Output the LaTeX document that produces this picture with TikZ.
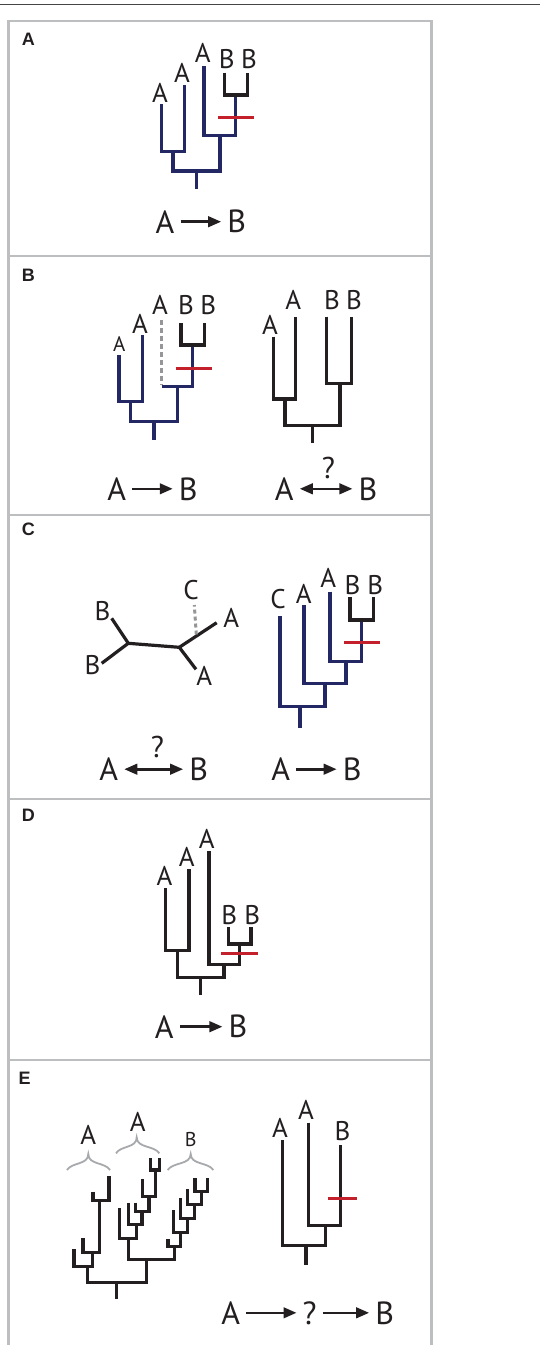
\documentclass[tikz,border=0pt]{standalone}
\usepackage{fontspec}
\setmainfont{PT Sans}
\newfontfamily\panelfont{Liberation Sans}
\usetikzlibrary{arrows.meta}

\definecolor{navy}{RGB}{35,40,100}
\definecolor{inkblack}{RGB}{35,31,32}
\definecolor{mutred}{RGB}{196,32,44}
\definecolor{framegray}{RGB}{188,190,192}
\definecolor{rulegray}{RGB}{70,70,72}
\definecolor{ghostgray}{RGB}{150,150,152}
\definecolor{bracegray}{RGB}{167,169,172}

\tikzset{
  frame/.style={draw=framegray, line width=2.6pt},
  tb/.style={draw=navy, line width=3.2pt, line join=miter},
  tk/.style={draw=inkblack, line width=3.2pt, line join=miter},
  mut/.style={draw=mutred, line width=3.2pt},
  ghost/.style={draw=ghostgray, line width=3pt, dash pattern=on 4.5pt off 3.5pt},
  lab/.style={inner sep=0pt, text=inkblack, font=\fontsize{27}{27}\selectfont},
  slab/.style={inner sep=0pt, text=inkblack, font=\fontsize{21}{21}\selectfont},
  big/.style={inner ysep=0pt, inner xsep=6pt, text=inkblack, font=\fontsize{32}{32}\selectfont},
  plabel/.style={anchor=west, inner sep=0pt, text=inkblack, font=\panelfont\bfseries\fontsize{18}{18}\selectfont},
  arr/.style={draw=inkblack, line width=2.6pt, -{Triangle[length=13pt,width=10.5pt]}},
  darr/.style={draw=inkblack, line width=2.6pt, {Triangle[length=13pt,width=10.5pt]}-{Triangle[length=13pt,width=10.5pt]}},
  brc/.style={draw=bracegray, line width=1.8pt},
}

\begin{document}
\begin{tikzpicture}[x=1pt,y=-1pt]
\useasboundingbox (0,0) rectangle (540,1345);
\fill[white] (0,0) rectangle (540,1345);

% page rule and panel frame
\draw[draw=rulegray, line width=1.5pt] (0,4.5) -- (540,4.5);
\draw[frame] (8.7,1345) -- (8.7,21) -- (431.3,21) -- (431.3,1345);
\foreach \yy in {256,515,799,1060} \draw[frame] (8.7,\yy) -- (431.3,\yy);

% panel letters
\node[plabel] (pA) at (21.7,39.5) {A};
\node[plabel] (pB) at (21.7,275) {B};
\node[plabel] (pC) at (21.7,529.3) {C};
\node[plabel] (pD) at (21.7,815) {D};
\node[plabel] (pE) at (18.3,1077.8) {E};

% ---------------- panel A ----------------
\draw[tb] (161.7,104) -- (161.7,151.7) -- (184.3,151.7) -- (184.3,85);
\draw[tb] (173,151.7) -- (173,171) -- (220,171) -- (220,135.7);
\draw[tb] (204,66) -- (204,135.7) -- (235.7,135.7) -- (235.7,95);
\draw[tb] (196.7,171) -- (196.7,189);
\draw[tk] (224.3,72.7) -- (224.3,95) -- (247.3,95) -- (247.3,72.7);
\draw[mut] (218.3,117.3) -- (254.3,117.3);
\node[lab] (a1) at (160,92.5) {A};
\node[lab] (a2) at (182,73) {A};
\node[lab] (a3) at (202.7,53) {A};
\node[lab] (a4) at (226.7,59) {B};
\node[lab] (a5) at (249,59) {B};
\node[big] (aA) at (165,221.7) {A};
\node[big] (aB) at (236.7,221.7) {B};
\draw[arr] (aA.east) -- (aB.west);

% ---------------- panel B ----------------
\draw[tb] (119,355) -- (119,401.7) -- (142.7,401.7) -- (142.7,335);
\draw[tb] (130.7,401.7) -- (130.7,421.7) -- (177.7,421.7) -- (177.7,386.7);
\draw[tb] (161.7,386.7) -- (192.7,386.7) -- (192.7,345);
\draw[tb] (154,421.7) -- (154,440);
\draw[ghost] (161.7,320) -- (161.7,385.1);
\draw[tk] (181,323.3) -- (181,345) -- (204.3,345) -- (204.3,323.3);
\draw[mut] (175.7,368.3) -- (211.7,368.3);
\node[slab] (b1) at (119.2,344.5) {A};
\node[lab] (b2) at (140,324) {A};
\node[lab] (b3) at (160,304.7) {A};
\node[lab] (b4) at (186,305) {B};
\node[lab] (b5) at (208.3,305) {B};

\draw[tk] (273.3,336.7) -- (273.3,399) -- (295.7,399) -- (295.7,316.7);
\draw[tk] (285,399) -- (285,425.7) -- (340,425.7) -- (340,383.3);
\draw[tk] (326.7,316.7) -- (326.7,383.3) -- (351.7,383.3) -- (351.7,316.7);
\draw[tk] (312.3,425.7) -- (312.3,443.3);
\node[lab] (b6) at (270,324.5) {A};
\node[lab] (b7) at (293.3,300) {A};
\node[lab] (b8) at (332,300) {B};
\node[lab] (b9) at (354,300) {B};

\node[big] (bA) at (116.7,488.8) {A};
\node[big] (bB) at (188.3,488.8) {B};
\draw[arr] (bA.east) -- (bB.west);
\node[big] (bA2) at (284.2,488.8) {A};
\node[big] (bB2) at (368,488.8) {B};
\draw[darr] (bA2.east) -- (bB2.west);
\node[lab, font=\fontsize{30}{30}\selectfont] (bq) at (328.3,468.3) {?};

% ---------------- panel C ----------------
\coordinate (c1) at (128.3,643.3);
\coordinate (c2) at (179.3,647.3);
\draw[tk, line join=round] (111.7,618.3) -- (c1) -- (101.7,663.3);
\draw[tk] (c1) -- (c2);
\draw[tk, line join=round] (216.7,622.7) -- (c2) -- (196,669.3);
\draw[ghost, dash pattern=on 4pt off 3pt] (196.3,634.5) -- (194.3,605);
\node[lab] (cB1) at (102.5,610.8) {B};
\node[lab] (cB2) at (92.5,665) {B};
\node[lab] (cA1) at (231.3,617.5) {A};
\node[lab] (cA2) at (204.3,675.8) {A};
\node[lab] (cC) at (191,590) {C};

\draw[tb] (280,616) -- (280,706.7) -- (325,706.7) -- (325,683.3);
\draw[tb] (304,605) -- (304,683.3) -- (346,683.3) -- (346,661.7);
\draw[tb] (330,591.7) -- (330,661.7) -- (361.7,661.7) -- (361.7,620);
\draw[tb] (300,706.7) -- (300,728.3);
\draw[tk] (350,597.3) -- (350,620) -- (373.3,620) -- (373.3,597.3);
\draw[mut] (344,642.7) -- (380,642.7);
\node[lab] (c3) at (278,599.2) {C};
\node[lab] (c4) at (303.8,593.8) {A};
\node[lab] (c5) at (328.3,577.8) {A};
\node[lab] (c6) at (352.5,585) {B};
\node[lab] (c7) at (375.2,585) {B};

\node[big] (cA) at (108.7,769.2) {A};
\node[big] (cB) at (198.7,769.2) {B};
\draw[darr] (cA.east) -- (cB.west);
\node[lab, font=\fontsize{30}{30}\selectfont] (cq) at (157.5,746.7) {?};
\node[big] (cA3) at (280.8,769.2) {A};
\node[big] (cB3) at (352.2,769.2) {B};
\draw[arr] (cA3.east) -- (cB3.west);

% ---------------- panel D ----------------
\draw[tk] (165.7,888.3) -- (165.7,950.7) -- (189,950.7) -- (189,869);
\draw[tk] (177.3,950.7) -- (177.3,977.3) -- (224,977.3) -- (224,964.3);
\draw[tk] (209,851) -- (209,964.3) -- (239.3,964.3) -- (239.3,944);
\draw[tk] (228.7,927.3) -- (228.7,944) -- (251,944) -- (251,927.3);
\draw[tk] (200.7,977.3) -- (200.7,995);
\draw[mut] (221,953.3) -- (257.7,953.3);
\node[lab] (d1) at (164.5,876.2) {A};
\node[lab] (d2) at (186.7,857.2) {A};
\node[lab] (d3) at (206.7,839.2) {A};
\node[lab] (d4) at (229.2,914.7) {B};
\node[lab] (d5) at (252.2,914.7) {B};
\node[big] (dA) at (164.2,1026.7) {A};
\node[big] (dB) at (238,1026.7) {B};
\draw[arr] (dA.east) -- (dB.west);

% ---------------- panel E ----------------
% clade A (left)
\draw[tk] (74,1249) -- (74,1266.7) -- (92.3,1266.7) -- (92.3,1252.3);
\draw[tk] (83,1238.3) -- (83,1252.3) -- (99.7,1252.3) -- (99.7,1200.7);
\draw[tk] (93,1191.5) -- (93,1200.7) -- (109,1200.7) -- (109,1175.5);
% root
\draw[tk] (87.3,1266.7) -- (87.3,1282.7) -- (146.7,1282.7) -- (146.7,1259.3);
\draw[tk] (116.7,1282.7) -- (116.7,1299.3);
\draw[tk] (128.3,1238.3) -- (128.3,1259.3) -- (174.5,1259.3) -- (174.5,1246.3);
% clade A (middle)
\draw[tk] (119.5,1208.3) -- (119.5,1238.3) -- (136.2,1238.3) -- (136.2,1224.3);
\draw[tk] (128.8,1202.7) -- (128.8,1224.3) -- (142,1224.3) -- (142,1211.5);
\draw[tk] (135.5,1202.7) -- (135.5,1211.5) -- (149,1211.5) -- (149,1196.7);
\draw[tk] (142.3,1179) -- (142.3,1196.7) -- (155.5,1196.7) -- (155.5,1170);
\draw[tk] (150.5,1158.3) -- (150.5,1170) -- (159.8,1170) -- (159.8,1158.3);
% clade B
\draw[tk] (168,1239) -- (168,1246.3) -- (180.6,1246.3) -- (180.6,1232.7);
\draw[tk] (173.7,1210) -- (173.7,1232.7) -- (187.4,1232.7) -- (187.4,1218.3);
\draw[tk] (180.6,1198) -- (180.6,1218.3) -- (194.2,1218.3) -- (194.2,1204.3);
\draw[tk] (187.2,1189) -- (187.2,1204.3) -- (201.2,1204.3) -- (201.2,1191.5);
\draw[tk] (195,1178.3) -- (195,1191.5) -- (207.3,1191.5) -- (207.3,1178.3);
% braces over the clades
\draw[brc] (67,1170) .. controls (72,1162) and (88.3,1165) .. (88.3,1154)
           .. controls (88.3,1165) and (105,1162) .. (110,1170);
\draw[brc] (116,1153.3) .. controls (121,1145.3) and (136.7,1148.3) .. (136.7,1137.3)
           .. controls (136.7,1148.3) and (154.3,1145.3) .. (159.3,1153.3);
\draw[brc] (167.7,1170) .. controls (172.7,1162) and (190.7,1165) .. (190.7,1154)
           .. controls (190.7,1165) and (208.3,1162) .. (213.3,1170);
\node[lab] (e1) at (88.3,1135.2) {A};
\node[lab] (e2) at (137.7,1121.8) {A};
\node[slab, font=\fontsize{20}{20}\selectfont] (e3) at (190.8,1139.7) {B};

% summary tree
\draw[tk] (282.7,1140) -- (282.7,1245.7) -- (325.7,1245.7) -- (325.7,1225.7);
\draw[tk] (308.3,1122.7) -- (308.3,1225.7) -- (340.7,1225.7) -- (340.7,1145);
\draw[tk] (306,1245.7) -- (306,1265);
\draw[mut] (327.7,1198.3) -- (357.3,1198.3);
\node[lab] (e4) at (280,1128.3) {A};
\node[lab] (e5) at (306,1110) {A};
\node[lab] (e6) at (342.5,1130.8) {B};

\node[big] (eA) at (230.8,1312.8) {A};
\node[big] (eq) at (309.7,1312.8) {?};
\node[big] (eB) at (384.7,1312.8) {B};
\draw[arr] (eA.east) -- (eq.west);
\draw[arr] (eq.east) -- (eB.west);
\end{tikzpicture}
\end{document}
